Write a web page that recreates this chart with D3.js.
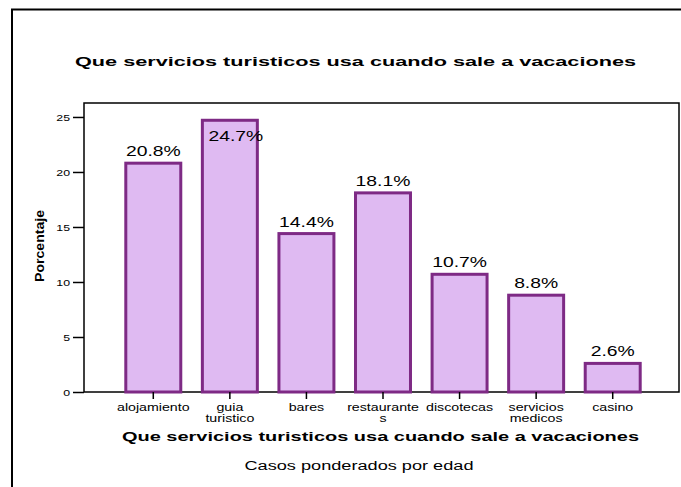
<!DOCTYPE html>
<html>
<head>
<meta charset="utf-8">
<script src="https://cdn.jsdelivr.net/npm/d3@7"></script>
<style>
  body { margin: 0; background: #fff; }
  svg { display: block; font-family: "Liberation Sans", Arial, sans-serif; }
  .axis text { fill: #000; }
  .axis line { stroke: #000; stroke-width: 1.5; }
</style>
</head>
<body>
<svg width="681" height="487"></svg>
<script>
var categories = ["alojamiento", "guia turistico", "bares", "restaurantes", "discotecas", "servicios medicos", "casino"];
// how each category label breaks over lines under the axis
var tickLines = [["alojamiento"], ["guia", "turistico"], ["bares"], ["restaurante", "s"], ["discotecas"], ["servicios", "medicos"], ["casino"]];
var percents = [20.8, 24.7, 14.4, 18.1, 10.7, 8.8, 2.6];
var yTicks = [0, 5, 10, 15, 20, 25];

var chartTitle = "Que servicios turisticos usa cuando sale a vacaciones",
  xTitle = "Que servicios turisticos usa cuando sale a vacaciones",
  yTitle = "Porcentaje",
  footnote = "Casos ponderados por edad";

var svg = d3.select("svg"),
  frame = { left: 84, top: 103, right: 679, bottom: 392 };

var x = d3.scaleBand()
  .domain(categories)
  .range([115, 651])
  .paddingInner(0.282)
  .paddingOuter(0.141);

var y = d3.scaleLinear()
  .domain([0, 26.27])
  .range([frame.bottom, frame.top]);

// outer border (runs off the right and bottom edge)
svg.append("rect")
  .attr("x", 12)
  .attr("y", 9.5)
  .attr("width", 700)
  .attr("height", 500)
  .attr("fill", "none")
  .attr("stroke", "#000")
  .attr("stroke-width", 2);

// stretched text helper: the reference text is drawn wide
function label(parent, str, px, py, size, weight, sx, anchor) {
  return parent.append("text")
    .attr("transform", "translate(" + px + "," + py + ") scale(" + sx + ",1)")
    .attr("text-anchor", anchor || "middle")
    .style("font-size", size + "px")
    .style("font-weight", weight)
    .text(str);
}

svg.append("text")
  .attr("x", 355.5)
  .attr("y", 66)
  .attr("text-anchor", "middle")
  .attr("textLength", 561)
  .attr("lengthAdjust", "spacingAndGlyphs")
  .style("font-size", "13px")
  .style("font-weight", "bold")
  .text(chartTitle);

// plot frame
svg.append("rect")
  .attr("x", frame.left)
  .attr("y", frame.top)
  .attr("width", frame.right - frame.left)
  .attr("height", frame.bottom - frame.top)
  .attr("fill", "none")
  .attr("stroke", "#000")
  .attr("stroke-width", 1.5);

// bars
svg.selectAll(".bar")
  .data(percents)
  .enter()
  .append("rect")
  .attr("class", "bar")
  .attr("x", function (d, i) { return x(categories[i]); })
  .attr("y", function (d) { return y(d); })
  .attr("width", x.bandwidth())
  .attr("height", function (d) { return frame.bottom - y(d); })
  .attr("fill", "#dfbaf2")
  .attr("stroke", "#7e2a85")
  .attr("stroke-width", 3);

// value labels, pushed inside the bar when there is no room above it
percents.forEach(function (d, i) {
  var cx = x(categories[i]) + x.bandwidth() / 2,
    top = y(d),
    inside = top - 19 < frame.top;
  label(svg, d.toFixed(1) + "%", inside ? cx + 6 : cx, inside ? top + 21 : top - 7, 14, "normal", 1.38);
});

// y axis
var gy = svg.append("g")
  .attr("class", "axis")
  .attr("transform", "translate(" + frame.left + ",0)")
  .call(d3.axisLeft(y).tickValues(yTicks).tickSize(11).tickPadding(0));
gy.select(".domain").remove();
gy.selectAll(".tick text")
  .attr("x", null)
  .attr("dy", "0.35em")
  .attr("transform", "translate(-14,0) scale(1.3,1)")
  .style("font-size", "9.5px");

// x axis
var gx = svg.append("g")
  .attr("class", "axis")
  .attr("transform", "translate(0," + frame.bottom + ")")
  .call(d3.axisBottom(x).tickSizeInner(7).tickSizeOuter(0));
gx.select(".domain").remove();
gx.selectAll(".tick text").each(function (d, i) {
  var t = d3.select(this).text(null)
    .attr("y", null)
    .attr("dy", null)
    .attr("transform", "translate(0,19) scale(1.42,1)")
    .style("font-size", "10px");
  tickLines[i].forEach(function (line, k) {
    t.append("tspan").attr("x", 0).attr("y", k * 11).text(line);
  });
});

svg.append("text")
  .attr("x", 380.5)
  .attr("y", 441)
  .attr("text-anchor", "middle")
  .attr("textLength", 517)
  .attr("lengthAdjust", "spacingAndGlyphs")
  .style("font-size", "13px")
  .style("font-weight", "bold")
  .text(xTitle);

svg.append("text")
  .attr("transform", "translate(44,246) rotate(-90)")
  .attr("text-anchor", "middle")
  .attr("textLength", 72)
  .attr("lengthAdjust", "spacingAndGlyphs")
  .style("font-size", "12px")
  .style("font-weight", "bold")
  .text(yTitle);

svg.append("text")
  .attr("x", 359)
  .attr("y", 470)
  .attr("text-anchor", "middle")
  .attr("textLength", 229)
  .attr("lengthAdjust", "spacingAndGlyphs")
  .style("font-size", "12.5px")
  .text(footnote);
</script>
</body>
</html>
